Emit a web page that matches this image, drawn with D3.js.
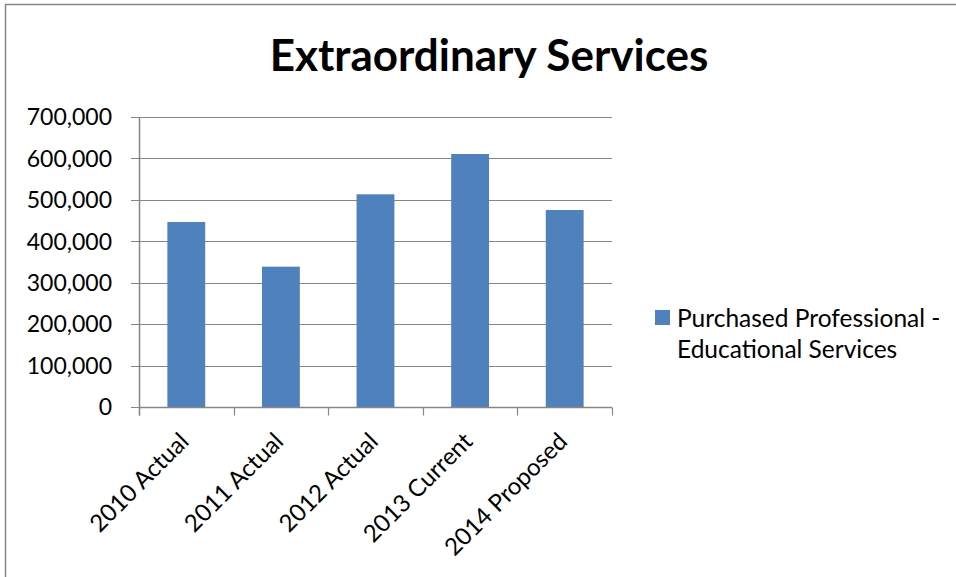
<!DOCTYPE html>
<html>
<head>
<meta charset="utf-8">
<script src="https://cdn.jsdelivr.net/npm/d3@7"></script>
<style>
  body { margin: 0; background: #fff; }
  text { font-family: Lato, "Open Sans", sans-serif; fill: #000; }
</style>
</head>
<body>
<div id="viz"></div>
<script>
const width = 956;
const height = 577;
const margin = {top: 117, right: 344, bottom: 170, left: 139};
const barColor = '#4F81BD';
const lineColor = '#868686';

// data
const categories = ['2010 Actual', '2011 Actual', '2012 Actual', '2013 Current', '2014 Proposed'];
const values = [446500, 338700, 513400, 610700, 475500];
const yTicks = [0, 100000, 200000, 300000, 400000, 500000, 600000, 700000];
const seriesName = ['Purchased Professional -', 'Educational Services'];
const title = 'Extraordinary Services';

const data = categories.map((c, i) => ({cat: c, value: values[i]}));

const svg = d3.select('#viz')
  .append('svg')
  .attr('width', width)
  .attr('height', height);

// outer chart frame (only top and left edges show)
svg.append('path')
  .attr('d', `M5.5,${height} V4.5 H${width}`)
  .attr('fill', 'none')
  .attr('stroke', lineColor)
  .attr('stroke-width', 1.5);

const xScale = d3.scaleBand()
  .domain(categories)
  .range([margin.left, width - margin.right])
  .paddingInner(0.6)
  .paddingOuter(0.3);

// band edges for tick marks (Excel puts ticks between categories)
const step = (width - margin.right - margin.left) / categories.length;

const yScale = d3.scaleLinear()
  .domain([0, 700000])
  .range([height - margin.bottom, margin.top]);

// gridlines
svg.append('g')
  .selectAll('line')
  .data(yTicks)
  .join('line')
    .attr('x1', margin.left - 8)
    .attr('x2', width - margin.right)
    .attr('y1', d => Math.round(yScale(d)) + 0.5)
    .attr('y2', d => Math.round(yScale(d)) + 0.5)
    .attr('stroke', lineColor)
    .attr('stroke-width', 1.2);

// y labels
svg.append('g')
  .selectAll('text')
  .data(yTicks)
  .join('text')
    .attr('x', 112)
    .attr('y', d => yScale(d))
    .attr('dy', '0.36em')
    .attr('text-anchor', 'end')
    .style('font-size', '23px')
    .text(d => d3.format(',')(d));

// bars
svg.append('g')
  .selectAll('rect')
  .data(data)
  .join('rect')
    .attr('x', d => xScale(d.cat))
    .attr('y', d => yScale(d.value))
    .attr('width', xScale.bandwidth())
    .attr('height', d => yScale(0) - yScale(d.value))
    .attr('fill', barColor);

// axes lines
const y0 = Math.round(yScale(0)) + 0.5;
svg.append('line')
  .attr('x1', margin.left + 0.5).attr('x2', margin.left + 0.5)
  .attr('y1', margin.top).attr('y2', y0 + 8)
  .attr('stroke', lineColor).attr('stroke-width', 1.5);
svg.append('line')
  .attr('x1', margin.left).attr('x2', width - margin.right)
  .attr('y1', y0).attr('y2', y0)
  .attr('stroke', lineColor).attr('stroke-width', 1.5);

svg.append('g')
  .selectAll('line')
  .data(d3.range(categories.length + 1))
  .join('line')
    .attr('x1', i => Math.round(margin.left + i * step) + 0.5)
    .attr('x2', i => Math.round(margin.left + i * step) + 0.5)
    .attr('y1', y0)
    .attr('y2', y0 + 8)
    .attr('stroke', lineColor)
    .attr('stroke-width', 1.2);

// rotated category labels
svg.append('g')
  .selectAll('text')
  .data(categories)
  .join('text')
    .attr('text-anchor', 'end')
    .attr('transform', d => `translate(${xScale(d) + xScale.bandwidth() / 2 - 2}, 437) rotate(-45)`)
    .attr('dy', '0.35em')
    .style('font-size', '24px')
    .text(d => d);

// title
svg.append('text')
  .attr('x', 489)
  .attr('y', 71)
  .attr('text-anchor', 'middle')
  .style('font-size', '44px')
  .style('font-weight', 'bold')
  .text(title);

// legend
svg.append('rect')
  .attr('x', 655)
  .attr('y', 310)
  .attr('width', 15)
  .attr('height', 15)
  .attr('fill', barColor);

svg.append('text')
  .attr('x', 677)
  .attr('y', 327)
  .style('font-size', '24.5px')
  .selectAll('tspan')
  .data(seriesName)
  .join('tspan')
    .attr('x', 677)
    .attr('dy', (d, i) => i === 0 ? 0 : 31)
    .text(d => d);
</script>
</body>
</html>
